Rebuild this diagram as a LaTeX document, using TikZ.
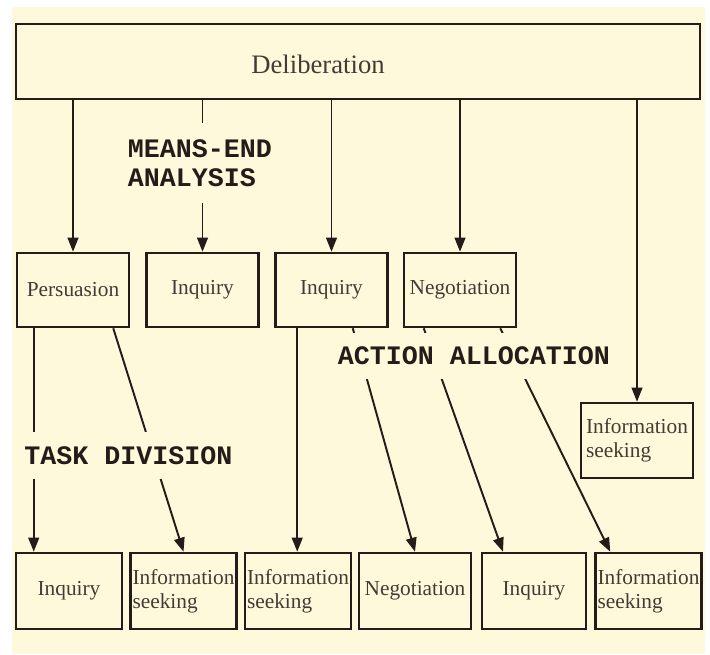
\documentclass[tikz,border=0pt]{standalone}
\usepackage{fontspec}
\setmainfont{Liberation Serif}
\setmonofont{Liberation Mono}
\usepackage{xcolor}
\usetikzlibrary{arrows.meta,calc}
\definecolor{cream}{RGB}{255,249,220}
\definecolor{ink}{RGB}{35,28,24}
\definecolor{txt}{RGB}{70,58,52}

\begin{document}
\begin{tikzpicture}[x=0.75pt,y=0.75pt,yscale=-1,xscale=1,
  box/.style={draw=ink, line width=1.9pt, text=txt, font=\fontsize{16}{18}\selectfont, minimum width=84pt, minimum height=55.5pt, inner sep=1pt, align=left},
  low/.style={box, minimum width=79.5pt, minimum height=57pt},
  tag/.style={fill=cream, text=ink, font=\ttfamily\bfseries\fontsize{20}{22}\selectfont, inner xsep=2pt, inner ysep=0pt, align=left},
  arr/.style={-{Triangle[length=10.5pt,width=8pt]}},
  link/.style={draw=ink, line width=1.45pt}]

\useasboundingbox (0,0) rectangle (710,654);
\fill [white] (0,0) rectangle (710,654);
\fill [cream] (12,7) rectangle (705,654);


\node [box, minimum width=513pt, minimum height=56.25pt] (delib) at (358,61.5) {};

\node [text=txt, font=\fontsize{20}{22}\selectfont] (delibtext) at (318,64) {Deliberation};

\node [box] (pers) at (73,290) {Persuasion};

\node [box] (inqa) at (202.5,290) {Inquiry};

\node [box] (inqb) at (331.5,290) {Inquiry};

\node [box] (nega) at (460,290) {Negotiation};

\node [box, minimum height=56.25pt] (infoa) at (637,440.5) {Information\\seeking};

\node [low] (inqc) at (69,591) {Inquiry};

\node [low] (infob) at (183.5,591) {Information\\seeking};

\node [low] (infoc) at (298,591) {Information\\seeking};

\node [low, minimum width=84pt] (negb) at (415,591) {Negotiation};

\node [low, minimum width=78pt] (inqd) at (534,591) {Inquiry};

\node [low] (infod) at (648.5,591) {Information\\seeking};


\draw [link, arr] (pers.north |- delib.south) -- (pers.north);

\draw [link, arr] (inqa.north |- delib.south) -- (inqa.north);

\draw [link, arr] (inqb.north |- delib.south) -- (inqb.north);

\draw [link, arr] (nega.north |- delib.south) -- (nega.north);

\draw [link, arr] (infoa.north |- delib.south) -- (infoa.north);

\draw [link, arr] ($(pers.south west)+(18,0)$) coordinate (p1) -- (p1 |- inqc.north);

\draw [link, arr] ($(pers.south east)+(-17,0)$) -- (infob.north);

\draw [link, arr] ($(inqb.south west)+(23,0)$) coordinate (p2) -- (p2 |- infoc.north);

\draw [link, arr] ($(inqb.south east)+(-36,0)$) -- (negb.north);

\draw [link, arr] ($(nega.south west)+(21,0)$) -- ($(inqd.north)+(-31,0)$);

\draw [link, arr] ($(nega.south east)+(-17,0)$) -- ($(infod.north west)+(16,0)$);


\node [tag, minimum height=60pt] (means) at (200,163) {MEANS-END\\ANALYSIS};

\node [tag, minimum height=35.25pt] (task) at (128.5,455.5) {TASK DIVISION};

\node [tag, minimum height=34.5pt] (action) at (474,356) {ACTION ALLOCATION};


\end{tikzpicture}
\end{document}
